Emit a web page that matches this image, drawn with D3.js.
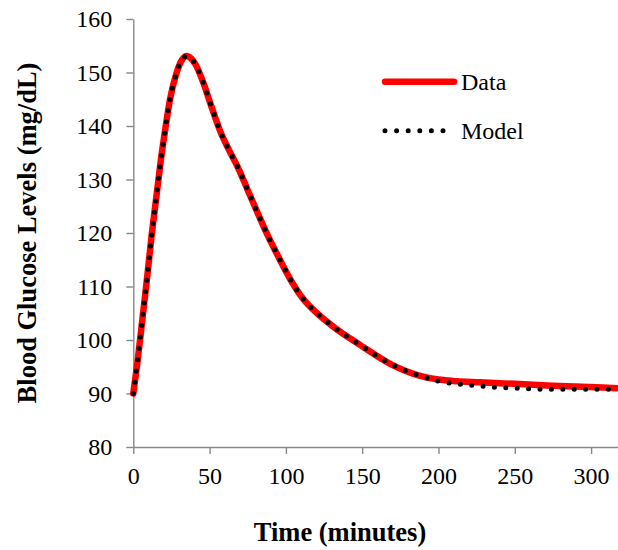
<!DOCTYPE html>
<html>
<head>
<meta charset="utf-8">
<script src="https://cdn.jsdelivr.net/npm/d3@7"></script>
<style>
  body { margin: 0; background: #fff; }
  svg { display: block; }
  svg text { font-family: "Liberation Serif", serif; }
</style>
</head>
<body>
<svg id="chart" width="618" height="550"></svg>
<script>
// time points (minutes)
var times = [0, 3, 6, 9, 12, 15, 18, 21, 24, 28, 32, 35, 38, 41, 46, 51, 57, 62, 69, 75, 82, 88, 95, 103, 111, 120, 131, 149, 168, 188, 200, 212, 227, 234, 250, 271, 290, 317];

// measured glucose (mg/dL)
var dataValues = [90, 96.5, 104, 111.5, 119.5, 126.5, 133.5, 139.5, 144.9, 149.6, 152.4, 153.1, 152.6, 151.4, 148, 143.8, 139, 135.9, 132, 128, 123.4, 119.6, 115.6, 111.3, 107.8, 105.1, 102.5, 99, 95.6, 93.3, 92.6, 92.3, 92.1, 92.0, 91.8, 91.5, 91.3, 91.0];

// model glucose (mg/dL)
var modelValues = [90, 96.5, 104, 111.5, 119.5, 126.5, 133.5, 139.5, 144.9, 149.6, 152.4, 153.1, 152.6, 151.4, 148, 143.8, 139, 135.9, 132, 128, 123.4, 119.6, 115.6, 111.3, 107.8, 105.1, 102.5, 99, 95.6, 93.3, 92.3, 91.8, 91.4, 91.2, 91.0, 90.8, 90.8, 90.8];

var xTicks = [0, 50, 100, 150, 200, 250, 300];
var yTicks = [80, 90, 100, 110, 120, 130, 140, 150, 160];
var seriesNames = ["Data", "Model"];

var svg = d3.select("#chart");
var axisColor = "#888";
var serif = "Liberation Serif, serif";

var x = d3.scaleLinear().domain([0, 320]).range([133.3, 621.6]);
var y = d3.scaleLinear().domain([80, 160]).range([447, 19]);

// axes
var xAxis = svg.append("g")
    .attr("transform", "translate(0,447)")
    .call(d3.axisBottom(x).tickValues(xTicks).tickSize(7).tickSizeOuter(0).tickPadding(13));
var yAxis = svg.append("g")
    .attr("transform", "translate(133.3,0)")
    .call(d3.axisLeft(y).tickValues(yTicks).tickSize(7).tickSizeOuter(0).tickPadding(14));

[xAxis, yAxis].forEach(function(a) {
    a.attr("font-family", serif).attr("font-size", 24);
    a.selectAll("path, line").attr("stroke", axisColor).attr("stroke-width", 1.4);
    a.selectAll("text").attr("fill", "#000");
});

var pts = function(vals) {
    return times.map(function(t, i) { return [t, vals[i]]; });
};

var line = d3.line()
    .x(function(d) { return x(d[0]); })
    .y(function(d) { return y(d[1]); })
    .curve(d3.curveMonotoneX);

svg.append("path")
    .datum(pts(dataValues))
    .attr("d", line)
    .attr("fill", "none")
    .attr("stroke", "#ff0000")
    .attr("stroke-width", 6.5)
    .attr("stroke-linejoin", "round")
    .attr("stroke-linecap", "round");

svg.append("path")
    .datum(pts(modelValues))
    .attr("d", line)
    .attr("fill", "none")
    .attr("stroke", "#000")
    .attr("stroke-width", 5)
    .attr("stroke-dasharray", "0,11.4")
    .attr("stroke-linecap", "round");

// legend
var legend = svg.append("g").attr("font-family", serif);
legend.append("line")
    .attr("x1", 385).attr("x2", 454).attr("y1", 81.7).attr("y2", 81.7)
    .attr("stroke", "#ff0000").attr("stroke-width", 6.5).attr("stroke-linecap", "round");
legend.append("line")
    .attr("x1", 385).attr("x2", 445).attr("y1", 130.7).attr("y2", 130.7)
    .attr("stroke", "#000").attr("stroke-width", 5)
    .attr("stroke-dasharray", "0,11.6").attr("stroke-linecap", "round");
legend.selectAll("text.leg")
    .data(seriesNames)
    .enter().append("text")
    .attr("class", "leg")
    .attr("x", 461)
    .attr("y", function(d, i) { return 90 + i * 49; })
    .attr("font-size", 24)
    .text(function(d) { return d; });

// axis titles
svg.append("text")
    .attr("x", 340).attr("y", 541)
    .attr("text-anchor", "middle")
    .attr("font-family", serif)
    .attr("font-size", 26.5).attr("font-weight", "bold")
    .text("Time (minutes)");

svg.append("text")
    .attr("transform", "translate(36,233) rotate(-90)")
    .attr("text-anchor", "middle")
    .attr("font-family", serif)
    .attr("font-size", 26.5).attr("font-weight", "bold")
    .text("Blood Glucose Levels (mg/dL)");
</script>
</body>
</html>
